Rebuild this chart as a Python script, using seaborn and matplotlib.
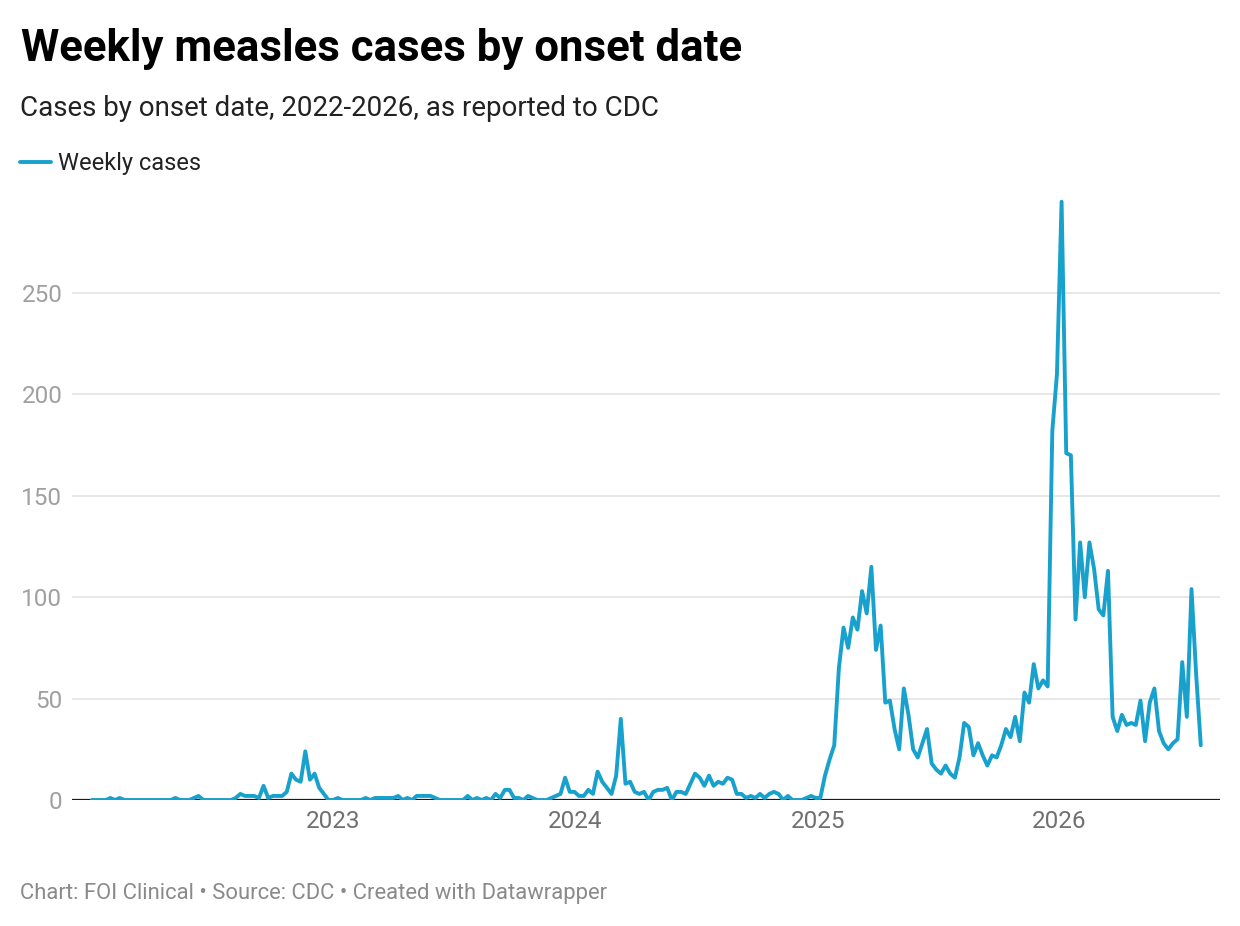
import pandas as pd
import numpy as np
import matplotlib.pyplot as plt
import seaborn as sns

# Weekly measles cases by onset date
first_week = "2022-01-02"

cases_2022 = [0, 0, 0, 0, 1, 0, 1, 0, 0, 0,
              0, 0, 0, 0, 0, 0, 0, 0, 1, 0,
              0, 0, 1, 2, 0, 0, 0, 0, 0, 0,
              0, 1, 3, 2, 2, 2, 1, 7, 1, 2,
              2, 2, 4, 13, 10, 9, 24, 10, 13, 6,
              3, 0]
cases_2023 = [0, 1, 0, 0, 0, 0, 0, 1, 0, 1,
              1, 1, 1, 1, 2, 0, 1, 0, 2, 2,
              2, 2, 1, 0, 0, 0, 0, 0, 0, 2,
              0, 1, 0, 1, 0, 3, 1, 5, 5, 1,
              1, 0, 2, 1, 0, 0, 0, 1, 2, 3,
              11, 4]
cases_2024 = [4, 2, 2, 5, 3, 14, 9, 6, 3, 12,
              40, 8, 9, 4, 3, 4, 0, 4, 5, 5,
              6, 0, 4, 4, 3, 8, 13, 11, 7, 12,
              7, 9, 8, 11, 10, 3, 3, 1, 2, 1,
              3, 1, 3, 4, 3, 0, 2, 0, 0, 0,
              1, 2, 1]
cases_2025 = [1, 12, 20, 27, 65, 85, 75, 90, 84, 103,
              92, 115, 74, 86, 48, 49, 35, 25, 55, 42,
              25, 21, 28, 35, 18, 15, 13, 17, 13, 11,
              21, 38, 36, 22, 28, 22, 17, 22, 21, 27,
              35, 31, 41, 29, 53, 48, 67, 55, 59, 56,
              182, 210]
cases_2026 = [295, 171, 170, 89, 127, 100, 127, 114, 94, 91,
              113, 41, 34, 42, 37, 38, 37, 49, 29, 48,
              55, 34, 28, 25, 28, 30, 68, 41, 104, 62,
              27]

year_ticks = ["2023-01-01", "2024-01-01", "2025-01-01", "2026-01-01"]
year_labels = ["2023", "2024", "2025", "2026"]
y_ticks = [0, 50, 100, 150, 200, 250]

cases = cases_2022 + cases_2023 + cases_2024 + cases_2025 + cases_2026
df = pd.DataFrame({
    "week": pd.date_range(first_week, periods=len(cases), freq="7D"),
    "cases": cases,
})

sns.set_theme(style="white")
plt.rcParams["font.family"] = ["Roboto", "DejaVu Sans"]

W, H = 1240, 926
fig = plt.figure(figsize=(W / 100, H / 100), dpi=100)
ax = fig.add_axes([72 / W, 1 - 800 / H, (1220 - 72) / W, (800 - 191.6) / H])

sns.lineplot(data=df, x="week", y="cases", ax=ax, color="#18a1cd",
             linewidth=2.8, label="Weekly cases", zorder=3)

ax.axhline(0, color="#1a1a1a", linewidth=1.6, zorder=2)
ax.set_ylim(0, 300)
ax.set_xlim(pd.Timestamp("2021-12-03"), pd.Timestamp("2026-08-31"))

ax.set_yticks(y_ticks)
ax.set_xticks(pd.to_datetime(year_ticks))
ax.set_xticklabels(year_labels)
ax.tick_params(axis="y", length=0, pad=7, labelsize=17.5, labelcolor="#a0a0a0")
ax.tick_params(axis="x", length=0, pad=7, labelsize=17.5, labelcolor="#707070")
ax.yaxis.grid(True, color="#e3e3e3", linewidth=1.2)
ax.xaxis.grid(False)
for s in ax.spines.values():
    s.set_visible(False)
ax.set_xlabel("")
ax.set_ylabel("")

ax.legend(loc="upper left", bbox_to_anchor=(20 / W, 1 - 152 / H),
          bbox_transform=fig.transFigure, frameon=False, fontsize=17,
          handlelength=1.3, handletextpad=0.3, borderpad=0, borderaxespad=0,
          labelcolor="#222222")

fig.text(21 / W, 1 - 61 / H, "Weekly measles cases by onset date",
         fontsize=31.5, fontweight="bold", color="#000000", va="baseline")
fig.text(20 / W, 1 - 115.5 / H, "Cases by onset date, 2022-2026, as reported to CDC",
         fontsize=20, color="#222222", va="baseline")
fig.text(20 / W, 1 - 899 / H,
         "Chart: FOI Clinical \u2022 Source: CDC \u2022 Created with Datawrapper",
         fontsize=15.8, color="#8a8a8a", va="baseline")

fig.savefig("out.png", dpi=100)
